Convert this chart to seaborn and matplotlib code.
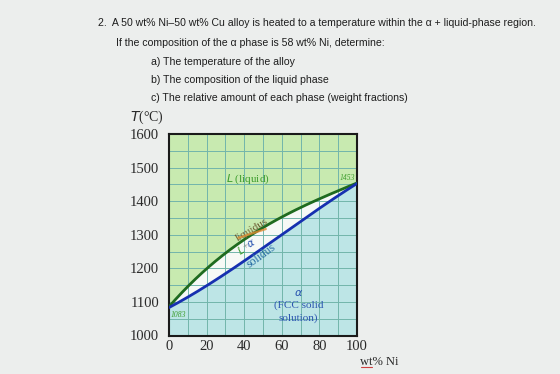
import numpy as np
import pandas as pd
import matplotlib
matplotlib.use("Agg")
import matplotlib.pyplot as plt
import seaborn as sns

# ---- data ----
comp = [0, 10, 20, 30, 40, 50, 60, 70, 80, 90, 100]
liquidus = [1083, 1150, 1200, 1243, 1285, 1320, 1352, 1382, 1408, 1432, 1453]
solidus = [1083, 1115, 1148, 1183, 1222, 1262, 1300, 1340, 1378, 1416, 1453]
x_ticks = [0, 20, 40, 60, 80, 100]
y_ticks = [1000, 1100, 1200, 1300, 1400, 1500, 1600]
question = [
    "2.  A 50 wt% Ni\u201350 wt% Cu alloy is heated to a temperature within the \u03b1 + liquid-phase region.",
    "If the composition of the \u03b1 phase is 58 wt% Ni, determine:",
    "a) The temperature of the alloy",
    "b) The composition of the liquid phase",
    "c) The relative amount of each phase (weight fractions)",
]

fine = np.linspace(0, 100, 201)
liq_f = np.polyval(np.polyfit(comp, liquidus, 3), fine)
sol_f = np.polyval(np.polyfit(comp, solidus, 3), fine)
dfs = pd.DataFrame({"comp": fine, "liquidus": liq_f, "solidus": sol_f})

sns.set_theme(style="white")
plt.rcParams["font.family"] = ["Liberation Serif", "DejaVu Serif"]

bg = "#eceeed"
fig = plt.figure(figsize=(5.6, 3.74), dpi=100, facecolor=bg)
ax = fig.add_axes([169/560, 1 - 335.5/374, 188/560, 201.5/374])

green_fill = "#c8eab0"
cyan_fill = "#bde5e6"
ax.fill_between(dfs["comp"], dfs["liquidus"], 1600, color=green_fill, lw=0, zorder=0)
ax.fill_between(dfs["comp"], dfs["solidus"], dfs["liquidus"], color="#f6f9f6", lw=0, zorder=0)
ax.fill_between(dfs["comp"], 1000, dfs["solidus"], color=cyan_fill, lw=0, zorder=0)

sns.lineplot(data=dfs, x="comp", y="liquidus", ax=ax, color="#1f6b1f", lw=2.0, zorder=3)
sns.lineplot(data=dfs, x="comp", y="solidus", ax=ax, color="#1630b0", lw=2.0, zorder=3)

ax.set_xlim(0, 100)
ax.set_ylim(1000, 1600)
ax.set_xticks(x_ticks)
ax.set_yticks(y_ticks)
ax.set_xticks(np.arange(0, 101, 10), minor=True)
ax.set_yticks(np.arange(1000, 1601, 50), minor=True)
ax.grid(which="both", color="#72b5ab", lw=0.7, zorder=1)
ax.set_axisbelow(True)
ax.tick_params(axis="both", which="major", direction="in", length=6, width=1.2,
               color="#222222", labelsize=10.5, labelcolor="#2a2a2a")
ax.tick_params(axis="both", which="minor", length=0)
ax.tick_params(axis="y", pad=7)
ax.tick_params(axis="x", pad=3)
ax.set_xlabel("")
ax.set_ylabel("")
for s in ax.spines.values():
    s.set_color("#1a1a1a")
    s.set_linewidth(1.5)

# region labels
ax.text(42, 1465, "$\\it{L}$ (liquid)", color="#3c9c2c", fontsize=8, ha="center", va="center")
ax.text(44, 1316, "liquidus", color="#6a5a30", fontsize=8, ha="center", va="center", rotation=31, zorder=4)
ax.plot([37, 51.5], [1291, 1317], color="#e08a30", lw=1.6, alpha=0.8, zorder=4)
ax.text(38.3, 1256, "$\\it{L}$", color="#3c9c2c", fontsize=7.5, ha="center", va="center", rotation=31, zorder=4)
ax.text(41.0, 1265, "+", color="#8a8a8a", fontsize=7, ha="center", va="center", rotation=31, zorder=4)
ax.text(43.7, 1274, "$\\alpha$", color="#2a55b0", fontsize=7.5, ha="center", va="center", rotation=31, zorder=4)
ax.text(49, 1238, "solidus", color="#2a6fa5", fontsize=8.5, ha="center", va="center", rotation=36, zorder=4)
ax.text(69, 1128, "$\\alpha$", color="#2a55b0", fontsize=8, ha="center", va="center")
ax.text(69, 1090, "(FCC solid", color="#2a55b0", fontsize=8, ha="center", va="center")
ax.text(69, 1052, "solution)", color="#2a55b0", fontsize=8, ha="center", va="center")
ax.text(0.8, 1062, "1083", color="#3c9c2c", fontsize=5.5, style="italic", ha="left", va="center")
ax.text(99, 1468, "1453", color="#3c9c2c", fontsize=5.5, style="italic", ha="right", va="center")

# axis titles
fig.text(130/560, 1 - 117/374, "$\\it{T}$(\u00b0C)", fontsize=10, color="#2a2a2a", ha="left", va="center")
fig.text(360/560, 1 - 362/374, "wt% Ni", fontsize=9, color="#2a2a2a", ha="left", va="center")
fig.add_artist(plt.Line2D([361/560, 372/560], [1 - 367/374, 1 - 367/374], color="#d04040", lw=0.8))

# question text
ys = [23, 43, 62, 80, 98]
xs = [98, 116, 151, 151, 151]
for t, x, y in zip(question, xs, ys):
    fig.text(x/560, 1 - y/374, t, fontsize=7.55, color="#1e1e1e", ha="left", va="center",
             family=["Liberation Sans", "DejaVu Sans"])

fig.savefig("out.png", dpi=100, facecolor=bg)
